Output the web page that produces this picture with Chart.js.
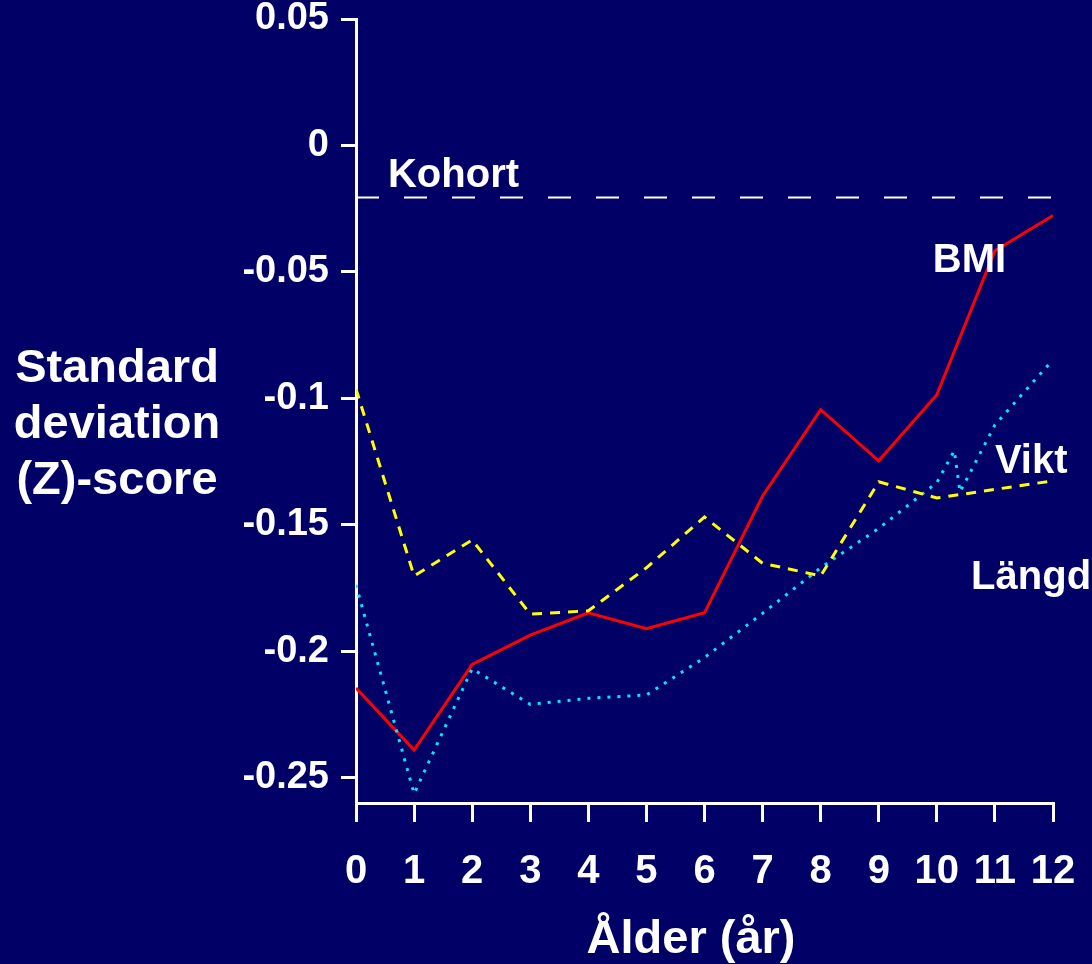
<!DOCTYPE html>
<html>
<head>
<meta charset="utf-8">
<script src="https://cdn.jsdelivr.net/npm/chart.js@4/dist/chart.umd.min.js"></script>
<style>
    html, body { margin: 0; padding: 0; background: #000066; }
    #wrap { width: 1092px; height: 964px; }
</style>
</head>
<body>
<div id="wrap"><canvas id="zChart" width="1092" height="964"></canvas></div>
<script>
// ages (år) and Z-scores
var ages = [0, 1, 2, 3, 4, 5, 6, 7, 8, 9, 10, 11, 12];
var bmiValues = [-0.2145, -0.2391, -0.2052, -0.1936, -0.1848, -0.1911, -0.1848, -0.1386, -0.1045, -0.1247, -0.0986, -0.0416, -0.0277];
var viktValues = [-0.0963, -0.1702, -0.1560, -0.1853, -0.1840, -0.1670, -0.1469, -0.1652, -0.1702, -0.1330, -0.1394, -0.1360, -0.1326];
var langdAges = [0, 1, 2, 3, 4, 5, 6, 7, 8, 9, 10, 10.3, 10.4, 11, 12];
var langdValues = [-0.1738, -0.2563, -0.2069, -0.2210, -0.2186, -0.2173, -0.2025, -0.1850, -0.1670, -0.1514, -0.1333, -0.1207, -0.1370, -0.1105, -0.0847];
var kohortAges = [0, 12];
var kohortValues = [-0.0206, -0.0206];
var yTicks = [0.05, 0, -0.05, -0.1, -0.15, -0.2, -0.25];

var yTitleLines = ['Standard', 'deviation', '(Z)-score'];
var xTitle = 'Ålder (år)';
var seriesLabels = [
    { text: 'Kohort', x: 0.55, y: -0.0119 },
    { text: 'BMI', x: 9.93, y: -0.0455 },
    { text: 'Vikt', x: 11.0, y: -0.1251 },
    { text: 'Längd', x: 10.59, y: -0.1710 }
];

function toPoints(xs, ys) {
    return xs.map(function (x, i) { return { x: x, y: ys[i] }; });
}

var FONT = '"Liberation Sans", Arial, sans-serif';

var textPlugin = {
    id: 'slideText',
    beforeDraw: function (chart) {
        var ctx = chart.ctx;
        ctx.save();
        ctx.fillStyle = '#000066';
        ctx.fillRect(0, 0, chart.width, chart.height);
        ctx.restore();
    },
    afterDraw: function (chart) {
        var ctx = chart.ctx;
        var xs = chart.scales.x, ys = chart.scales.y;
        ctx.save();
        ctx.fillStyle = '#ffffff';
        ctx.textAlign = 'center';
        ctx.textBaseline = 'middle';
        ctx.font = 'bold 47px ' + FONT;
        yTitleLines.forEach(function (line, i) {
            ctx.fillText(line, 117, 369 + i * 56);
        });
        ctx.fillText(xTitle, 691, 940);
        ctx.font = 'bold 40px ' + FONT;
        ctx.textAlign = 'left';
        seriesLabels.forEach(function (l) {
            ctx.fillText(l.text, xs.getPixelForValue(l.x), ys.getPixelForValue(l.y));
        });
        ctx.restore();
    }
};

var chart = new Chart(document.getElementById('zChart'), {
    type: 'line',
    data: {
        datasets: [
            {
                label: 'Kohort',
                data: toPoints(kohortAges, kohortValues),
                borderColor: '#ffffff',
                borderWidth: 2,
                borderDash: [23, 25],
                pointRadius: 0
            },
            {
                label: 'Vikt',
                data: toPoints(ages, viktValues),
                borderColor: '#ffff00',
                borderWidth: 3,
                borderDash: [10, 8],
                pointRadius: 0
            },
            {
                label: 'Längd',
                data: toPoints(langdAges, langdValues),
                borderColor: '#00e8ff',
                borderWidth: 3,
                borderDash: [3, 7],
                pointRadius: 0
            },
            {
                label: 'BMI',
                data: toPoints(ages, bmiValues),
                borderColor: '#ff0000',
                borderWidth: 3,
                pointRadius: 0
            }
        ]
    },
    options: {
        responsive: false,
        animation: false,
        layout: { padding: { left: 0, right: 39, top: 19, bottom: 0 } },
        plugins: {
            legend: { display: false },
            tooltip: { enabled: false }
        },
        scales: {
            x: {
                type: 'linear',
                min: 0,
                max: 12,
                ticks: {
                    stepSize: 1,
                    color: '#ffffff',
                    font: { family: FONT, size: 40, weight: 'bold' },
                    padding: 26,
                    maxRotation: 0,
                    autoSkip: false
                },
                grid: {
                    drawOnChartArea: false,
                    color: '#ffffff',
                    lineWidth: 3,
                    tickLength: 19
                },
                border: { color: '#ffffff', width: 3 },
                afterFit: function (scale) {
                    scale.height = 161;
                    scale.paddingLeft = 0;
                    scale.paddingRight = 0;
                }
            },
            y: {
                min: -0.26,
                max: 0.05,
                afterBuildTicks: function (scale) {
                    scale.ticks = yTicks.map(function (v) { return { value: v }; });
                },
                ticks: {
                    color: '#ffffff',
                    font: { family: FONT, size: 38, weight: 'bold' },
                    padding: 12,
                    callback: function (v) { return String(parseFloat(v.toFixed(2))); }
                },
                grid: {
                    drawOnChartArea: false,
                    color: '#ffffff',
                    lineWidth: 3,
                    tickLength: 15
                },
                border: { color: '#ffffff', width: 3 },
                afterFit: function (scale) {
                    scale.width = 356;
                    scale.paddingTop = 0;
                    scale.paddingBottom = 0;
                }
            }
        }
    },
    plugins: [textPlugin]
});
</script>
</body>
</html>
